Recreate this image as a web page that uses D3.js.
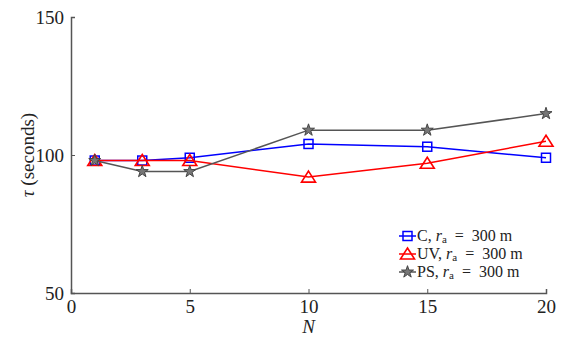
<!DOCTYPE html>
<html>
<head>
<meta charset="utf-8">
<script src="https://cdn.jsdelivr.net/npm/d3@7"></script>
<style>
  body { margin: 0; background: #fff; }
  svg { font-family: "Liberation Serif", "DejaVu Serif", serif; }
</style>
</head>
<body>
<svg id="chart" width="561" height="337"></svg>
<script>
// data
var nValues = [1, 3, 5, 10, 15, 20];
var cValues = [98, 98, 99, 104, 103, 99];
var uvValues = [98, 98, 98, 92, 97, 105];
var psValues = [98, 94, 94, 109, 109, 115];
var xTicks = [0, 5, 10, 15, 20];
var yTicks = [50, 100, 150];
var seriesNames = ["C", "UV", "PS"];

var svg = d3.select("#chart"),
    margin = {top: 17, right: 15, bottom: 44, left: 71},
    width = 561 - margin.left - margin.right,
    height = 337 - margin.top - margin.bottom;

var g = svg.append("g")
    .attr("transform", "translate(" + margin.left + "," + margin.top + ")");

var x = d3.scaleLinear().domain([0, 20]).range([0, width]);
var y = d3.scaleLinear().domain([50, 150]).range([height, 0]);

var axisColor = "#555";
var serif = "Liberation Serif, DejaVu Serif, serif";

// x axis, ticks pointing inward
var xAxis = g.append("g")
    .attr("transform", "translate(0," + height + ")")
    .call(d3.axisBottom(x).tickValues(xTicks).tickSize(-4).tickPadding(7));
xAxis.attr("font-family", serif);
xAxis.selectAll("text").style("font-size", "19px").attr("fill", "#222");

var yAxis = g.append("g")
    .call(d3.axisLeft(y).tickValues(yTicks).tickSize(-4).tickPadding(7));
yAxis.attr("font-family", serif);
yAxis.selectAll("text").style("font-size", "19px").attr("fill", "#222").attr("dy", "0.35em");

g.selectAll(".domain").attr("stroke", axisColor).attr("stroke-width", 1.5);
g.selectAll(".tick line").attr("stroke", axisColor).attr("stroke-width", 1);

// axis labels
svg.append("text")
    .attr("x", margin.left + x(10))
    .attr("y", 333)
    .attr("text-anchor", "middle")
    .style("font-size", "19px")
    .style("font-style", "italic")
    .attr("fill", "#222")
    .text("N");

var yl = svg.append("text")
    .attr("transform", "translate(34," + (margin.top + y(100)) + ") rotate(-90)")
    .attr("text-anchor", "middle")
    .style("font-size", "19px")
    .attr("fill", "#222");
yl.append("tspan").style("font-style", "italic").text("τ");
yl.append("tspan").text(" (seconds)");

var series = [
  {name: seriesNames[0], values: cValues, color: "#0000ff", marker: "square"},
  {name: seriesNames[1], values: uvValues, color: "#ff0000", marker: "triangle"},
  {name: seriesNames[2], values: psValues, color: "#555555", marker: "star"}
];

var line = d3.line()
    .x(function(d) { return x(d.n); })
    .y(function(d) { return y(d.v); });

function drawMarker(sel, s) {
  if (s.marker == "square") {
    sel.append("rect")
      .attr("x", -4.5).attr("y", -4.5)
      .attr("width", 9).attr("height", 9)
      .attr("fill", "none").attr("stroke", s.color).attr("stroke-width", 1.5);
  } else if (s.marker == "triangle") {
    sel.append("path")
      .attr("d", "M0,-6 L7,5 L-7,5 Z")
      .attr("fill", "none").attr("stroke", s.color).attr("stroke-width", 1.6);
  } else {
    sel.append("path")
      .attr("d", d3.symbol().type(d3.symbolStar).size(45))
      .attr("fill", "#777").attr("stroke", "#444").attr("stroke-width", 1);
  }
}

series.forEach(function(s) {
  var pts = nValues.map(function(n, i) { return {n: n, v: s.values[i]}; });

  g.append("path")
    .datum(pts)
    .attr("d", line)
    .attr("fill", "none")
    .attr("stroke", s.color)
    .attr("stroke-width", 1.5);

  g.selectAll(".m-" + s.name)
    .data(pts)
    .enter().append("g")
      .attr("transform", function(d) { return "translate(" + x(d.n) + "," + y(d.v) + ")"; })
      .each(function() { drawMarker(d3.select(this), s); });
});

// legend
var legend = svg.append("g").attr("transform", "translate(399,236)");
series.forEach(function(s, i) {
  var row = legend.append("g").attr("transform", "translate(0," + i * 18 + ")");
  row.append("line")
    .attr("x1", 0).attr("x2", 17).attr("y1", 0).attr("y2", 0)
    .attr("stroke", s.color).attr("stroke-width", 1.5);
  var m = row.append("g").attr("transform", "translate(8.5,0)");
  drawMarker(m, s);
  var t = row.append("text")
    .attr("x", 18).attr("y", 0).attr("dy", "0.33em")
    .style("font-size", "16px")
    .attr("fill", "#222");
  t.append("tspan").text(s.name + ", ");
  t.append("tspan").style("font-style", "italic").text("r");
  t.append("tspan").attr("dy", "2").style("font-size", "11px").text("a");
  t.append("tspan").attr("dy", "-2").text("\u2002=\u2002300 m");
});
</script>
</body>
</html>
